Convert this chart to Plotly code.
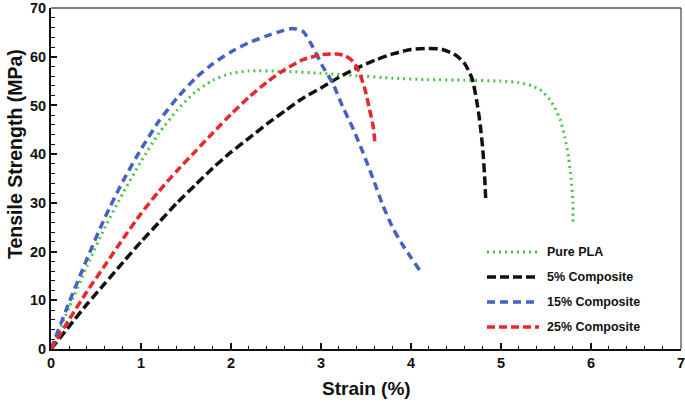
import plotly.graph_objects as go

# ---- data ----
pla_x = [0, 0.2, 0.4, 0.6, 0.8, 1.0, 1.2, 1.4, 1.6, 1.8, 2.0, 2.2, 2.6, 3.0, 3.4, 3.8,
         4.2, 4.6, 5.0, 5.2, 5.35, 5.45, 5.53, 5.6, 5.66, 5.71, 5.75, 5.78, 5.8, 5.8]
pla_y = [0, 8.5, 17, 25, 32, 38.5, 44.3, 49, 52.7, 55.2, 56.6, 57.1, 57.0, 56.6, 56.1, 55.6,
         55.3, 55.2, 55.0, 54.7, 54.0, 53.0, 51.5, 49.5, 47.0, 43.5, 39.5, 35, 30, 25.7]

c5_x = [0, 0.2, 0.4, 0.6, 0.8, 1.0, 1.2, 1.4, 1.6, 1.8, 2.0, 2.2, 2.4, 2.6, 2.8, 3.0, 3.2,
        3.4, 3.6, 3.8, 4.0, 4.2, 4.35, 4.5, 4.6, 4.68, 4.73, 4.77, 4.8, 4.82, 4.83]
c5_y = [0, 4.6, 9.2, 13.5, 17.8, 22, 26, 30, 33.6, 37.2, 40.4, 43.3, 46.2, 48.9, 51.5, 53.6, 55.8,
        57.7, 59.3, 60.6, 61.5, 61.7, 61.5, 60.3, 58.5, 55.5, 51, 46, 40.6, 35, 31]

c15_x = [0, 0.2, 0.4, 0.6, 0.8, 1.0, 1.2, 1.4, 1.6, 1.8, 2.0, 2.2, 2.4, 2.55, 2.68, 2.8,
         2.91, 3.02, 3.13, 3.24, 3.36, 3.47, 3.58, 3.69, 3.8, 3.9, 4.0, 4.1]
c15_y = [0, 9.5, 18.5, 27, 34.5, 41, 46.8, 51.5, 55.5, 58.6, 61, 62.9, 64.3, 65.2, 65.8, 65.2,
         62, 58, 54.6, 49.8, 45.1, 40.2, 34.9, 29.4, 24.8, 21.6, 18.8, 16.1]

c25_x = [0, 0.2, 0.4, 0.6, 0.8, 1.0, 1.2, 1.4, 1.6, 1.8, 2.0, 2.2, 2.4, 2.6, 2.8, 3.0, 3.15,
         3.27, 3.36, 3.43, 3.49, 3.54, 3.58, 3.6]
c25_y = [0, 6, 11.8, 17.2, 22.6, 27.8, 32.4, 36.6, 40.5, 44.4, 48.2, 51.7, 54.8, 57.4, 59.4, 60.4, 60.6,
         60.2, 59, 56.6, 53.2, 49.2, 45.7, 42.3]

series_names = ["Pure PLA", "5% Composite", "15% Composite", "25% Composite"]
x_ticks = [0, 1, 2, 3, 4, 5, 6, 7]
y_ticks = [0, 10, 20, 30, 40, 50, 60, 70]
x_title = "Strain (%)"
y_title = "Tensile Strength (MPa)"

# ---- styles ----
GREEN = "#47c447"
BLACK = "#111111"
BLUE = "#4462c2"
RED = "#e8282c"

styles = [
    dict(color=GREEN, width=3, dash="2px,4px"),
    dict(color=BLACK, width=3.5, dash="9px,4px"),
    dict(color=BLUE, width=3.5, dash="8px,5px"),
    dict(color=RED, width=3.5, dash="8px,4px"),
]
data = [(pla_x, pla_y), (c5_x, c5_y), (c15_x, c15_y), (c25_x, c25_y)]

fig = go.Figure()
for (xs, ys), name, st in zip(data, series_names, styles):
    fig.add_trace(go.Scatter(x=xs, y=ys, mode="lines", name=name,
                             line=dict(shape="spline", smoothing=0.6, **st),
                             showlegend=False))

# ---- custom legend ----
L, R, T, B = 51, 681, 8, 349
W, H = R - L, B - T
leg_rows_px = [252, 277, 302, 327]
for name, st, py in zip(series_names, styles, leg_rows_px):
    yp = (B - py) / H
    fig.add_shape(type="line", xref="paper", yref="paper",
                  x0=(487 - L) / W, x1=(539 - L) / W, y0=yp, y1=yp,
                  line=dict(color=st["color"], width=st["width"], dash=st["dash"]))
    fig.add_annotation(xref="paper", yref="paper", x=(545 - L) / W, y=yp,
                       text=name, showarrow=False, xanchor="left", yanchor="middle",
                       font=dict(family="Liberation Sans, Arial", size=12.5, color="#111", weight="bold"))

# axis titles
fig.add_annotation(xref="paper", yref="paper", x=(366 - L) / W, y=(B - 389) / H,
                   text=x_title, showarrow=False, xanchor="center", yanchor="middle",
                   font=dict(family="Liberation Sans, Arial", size=19, color="#111", weight="bold"))
fig.add_annotation(xref="paper", yref="paper", x=(15 - L) / W, y=(B - 154) / H,
                   text=y_title, showarrow=False, xanchor="center", yanchor="middle", textangle=-90,
                   font=dict(family="Liberation Sans, Arial", size=19.5, color="#111", weight="bold"))

# frame: top (gray) and right borders
fig.add_shape(type="line", xref="paper", yref="paper", x0=0, x1=1, y0=1, y1=1,
              line=dict(color="#808080", width=2))
fig.add_shape(type="line", xref="paper", yref="paper", x0=1, x1=1, y0=0, y1=1,
              line=dict(color="#444444", width=1.2))

tickfont = dict(family="Liberation Sans, Arial", size=14.5, color="#111", weight="bold")
fig.update_layout(
    width=685, height=403,
    margin=dict(l=L, r=685 - R, t=T, b=403 - B),
    paper_bgcolor="white", plot_bgcolor="white",
    font=dict(family="Liberation Sans, Arial"),
    xaxis=dict(range=[0, 7.001], tickvals=x_ticks, ticktext=[str(v) for v in x_ticks],
               ticks="inside", ticklen=6, tickwidth=1.5, tickcolor="#111",
               minor=dict(dtick=0.2, ticks="inside", ticklen=3.5, tickwidth=1, tickcolor="#111"),
               showgrid=False, zeroline=False, showline=True, linecolor="#111", linewidth=2,
               tickfont=tickfont, automargin=False, ticklabeloverflow="allow"),
    yaxis=dict(range=[0, 70.01], tickvals=y_ticks, ticktext=[str(v) for v in y_ticks],
               ticks="inside", ticklen=6, tickwidth=1.5, tickcolor="#111",
               minor=dict(dtick=2, ticks="inside", ticklen=3.5, tickwidth=1, tickcolor="#111"),
               showgrid=False, zeroline=False, showline=True, linecolor="#111", linewidth=2,
               tickfont=tickfont, automargin=False, ticklabeloverflow="allow"),
)

fig.write_html("out.html", config={"displayModeBar": False},
               post_script="document.body.style.margin='0';document.body.style.padding='0';")
